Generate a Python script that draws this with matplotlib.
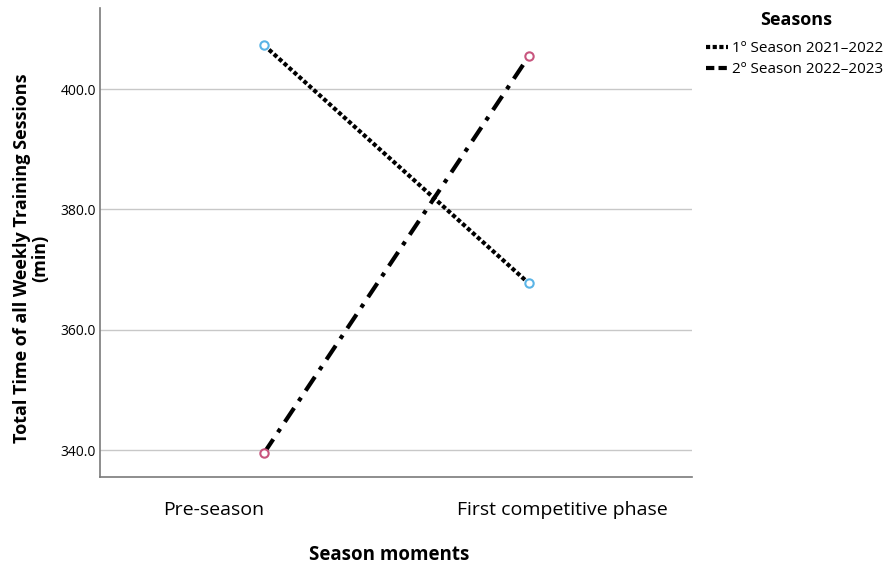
import matplotlib
matplotlib.use("Agg")
import matplotlib.pyplot as plt
from matplotlib.lines import Line2D

plt.rcParams['font.family'] = ['Open Sans', 'DejaVu Sans']

moments = ["Pre-season", "First competitive phase"]
season_1 = [407.3, 367.7]
season_2 = [339.5, 405.5]
season_labels = ["1º Season 2021–2022", "2º Season 2022–2023"]
y_ticks = [340.0, 360.0, 380.0, 400.0]

fig = plt.figure(figsize=(8.9, 5.66), dpi=100)
ax = fig.add_axes([0.1124, 0.157, 0.665, 0.829])

x = [0, 1]
dotted = (0, (1, 0.6))
dashdot = (0, (4, 2, 1, 2))
ax.plot(x, season_1, color='black', lw=3, ls=dotted, zorder=3)
ax.plot(x, season_2, color='black', lw=3, ls=dashdot, zorder=3)
ax.plot(x, season_1, ls='none', marker='o', ms=6, mfc='white', mec='#5ab4e6', mew=1.5, zorder=4)
ax.plot(x, season_2, ls='none', marker='o', ms=6, mfc='white', mec='#c8557e', mew=1.5, zorder=4)

ax.set_xlim(-0.619, 1.615)
ax.set_ylim(335.5, 413.5)
ax.set_yticks(y_ticks)
ax.set_yticklabels([f"{v:.1f}" for v in y_ticks], fontsize=10)
# category labels sit a little apart from the plotted points
ax.set_xticks([-0.189, 1.128])
ax.set_xticklabels(moments, fontsize=14)
ax.tick_params(axis='x', length=0, pad=17)
ax.tick_params(axis='y', length=0, pad=3)
ax.yaxis.grid(True, color='#c8c8c8', lw=1)
ax.set_axisbelow(True)

for s in ['top', 'right']:
    ax.spines[s].set_visible(False)
for s in ['left', 'bottom']:
    ax.spines[s].set_color('#7a7a7a')
    ax.spines[s].set_linewidth(1.2)

ax.set_xlabel("Season moments", fontsize=13.5, fontweight='bold')
ax.xaxis.set_label_coords(0.488, -0.144)
ax.set_ylabel("Total Time of all Weekly Training Sessions\n(min)", fontsize=13,
              fontweight='bold', linespacing=1.05)
ax.yaxis.set_label_coords(-0.085, 0.467)

fig.text(796 / 890, 1 - 20 / 566, "Seasons", ha='center', va='center',
         fontsize=13, fontweight='bold')
handles = [Line2D([], [], color='black', lw=3, ls=dotted),
           Line2D([], [], color='black', lw=3, ls=(0, (2, 1)))]
leg = fig.legend(handles, season_labels, loc='upper left', bbox_to_anchor=(0.778, 0.951),
                 frameon=False, fontsize=11, handlelength=1.45,
                 handletextpad=0.26, labelspacing=0.36)

fig.savefig('out.png', dpi=100)
